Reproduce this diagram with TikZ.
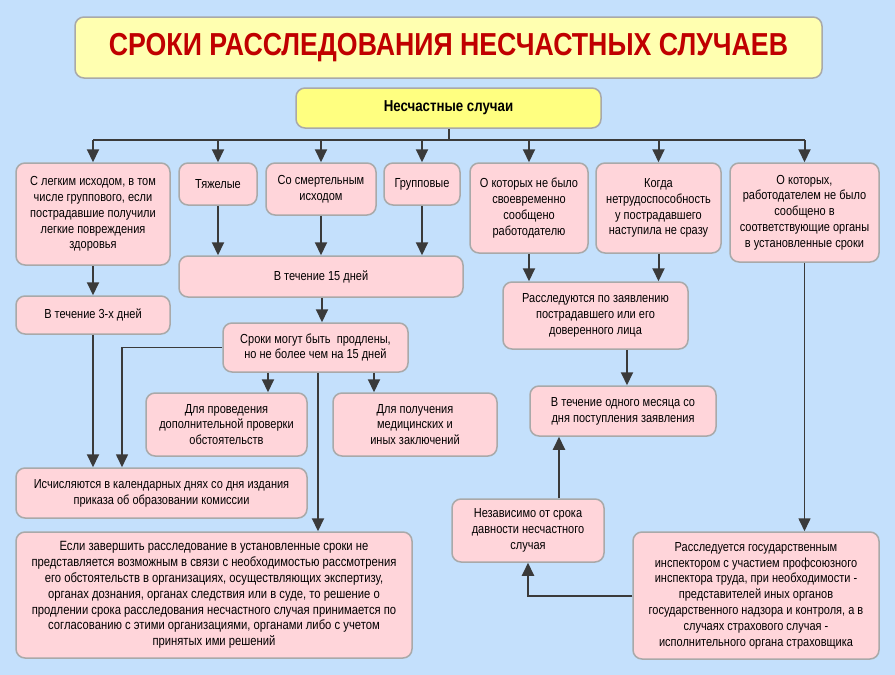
\documentclass[tikz,border=0pt]{standalone}
\usepackage{fontspec}
\setmainfont{Liberation Sans}[FakeStretch=0.84]
\usetikzlibrary{arrows.meta}
\definecolor{bg}{HTML}{C4E0FC}
\definecolor{pinkbox}{HTML}{FFD5DA}
\definecolor{boxline}{HTML}{A9A9A9}
\definecolor{titlefill}{HTML}{FFFFB0}
\definecolor{headfill}{HTML}{FFFF80}
\definecolor{titlered}{HTML}{C00000}
\definecolor{arrowcol}{HTML}{3A3A3A}
\tikzset{
  box/.style={draw=boxline, fill=pinkbox, line width=1.5pt, rounded corners=9pt,
    align=center, inner sep=0pt, font=\fontsize{13.1}{15.8}\selectfont},
  arr/.style={draw=arrowcol, line width=2pt, -{Triangle[length=13pt,width=12pt]}},
  thinarr/.style={draw=arrowcol, line width=1.6pt, -{Triangle[length=13pt,width=12pt]}},
  plainline/.style={draw=arrowcol, line width=2pt},
}
\begin{document}
\begin{tikzpicture}[x=1pt,y=-1pt]
\fill[bg] (0,0) rectangle (895,675);
\useasboundingbox (0,0) rectangle (895,675);

\node[box, fill=titlefill, minimum width=747pt, minimum height=61pt,
  font=\bfseries\fontsize{31.8}{34}\selectfont, text=titlered] (title) at (448.5,47.5)
  {СРОКИ РАССЛЕДОВАНИЯ НЕСЧАСТНЫХ СЛУЧАЕВ};
\node[box, fill=headfill, minimum width=305pt, minimum height=40pt,
  font=\bfseries\fontsize{15.8}{17}\selectfont] (nc) at (448.5,108) {Несчастные случаи};

\node[box, minimum width=154pt, minimum height=102pt] (A) at (93,214)
  {С легким исходом, в том\\числе группового, если\\пострадавшие получили\\легкие повреждения\\здоровья};
\node[box, minimum width=78pt, minimum height=42pt] (B) at (218,184) {Тяжелые};
\node[box, minimum width=110pt, minimum height=52pt] (C) at (321,189) {Со смертельным\\исходом};
\node[box, minimum width=76pt, minimum height=42pt] (D) at (422,184) {Групповые};
\node[box, minimum width=118pt, minimum height=90pt] (E) at (529,208)
  {О которых не было\\своевременно\\сообщено\\работодателю};
\node[box, minimum width=125pt, minimum height=90pt] (F) at (658.5,208)
  {Когда\\нетрудоспособность\\у пострадавшего\\наступила не сразу};
\node[box, minimum width=149pt, minimum height=99pt] (G) at (804.5,212.5)
  {О которых,\\работодателем не было\\сообщено в\\соответствующие органы\\в установленные сроки};

\node[box, minimum width=284pt, minimum height=41pt] (d15) at (321,276.5) {В течение 15 дней};
\node[box, minimum width=154pt, minimum height=38pt] (d3) at (93,315) {В течение 3-х дней};
\node[box, minimum width=185pt, minimum height=49pt] (prod) at (315.5,347.5)
  {Сроки могут быть \ продлены,\\но не более чем на 15 дней};
\node[box, minimum width=161pt, minimum height=63pt] (dop) at (226.5,424.5)
  {Для проведения\\дополнительной проверки\\обстоятельств};
\node[box, minimum width=164pt, minimum height=63pt] (med) at (415,424.5)
  {Для получения\\медицинских и\\иных заключений};
\node[box, minimum width=291pt, minimum height=50pt] (isch) at (161.5,493)
  {Исчисляются в календарных днях со дня издания\\приказа об образовании комиссии};
\node[box, minimum width=396pt, minimum height=126pt, font=\fontsize{13.4}{15.8}\selectfont] (big) at (214,595)
  {Если завершить расследование в установленные сроки не\\представляется возможным в связи с необходимостью рассмотрения\\его обстоятельств в организациях, осуществляющих экспертизу,\\органах дознания, органах следствия или в суде, то решение о\\продлении срока расследования несчастного случая принимается по\\согласованию с этими организациями, органами либо с учетом\\принятых ими решений};

\node[box, minimum width=185pt, minimum height=67pt] (rass) at (595.5,315.5)
  {Расследуются по заявлению\\пострадавшего или его\\доверенного лица};
\node[box, minimum width=186pt, minimum height=50pt] (month) at (623,411)
  {В течение одного месяца со\\дня поступления заявления};
\node[box, minimum width=152pt, minimum height=63pt] (nez) at (528,530.5)
  {Независимо от срока\\давности несчастного\\случая};
\node[box, minimum width=246pt, minimum height=127pt] (insp) at (756,595.5)
  {Расследуется государственным\\инспектором с участием профсоюзного\\инспектора труда, при необходимости -\\представителей иных органов\\государственного надзора и контроля, а в\\случаях страхового случая -\\исполнительного органа страховщика};

% helper coordinates
\coordinate (bus) at (0,140);
\coordinate (x122) at (122,0);
\coordinate (x268) at (268,0);
\coordinate (x318) at (318,0);
\coordinate (x374) at (374,0);
\coordinate (x322) at (322,0);
\coordinate (x627) at (627,0);
\coordinate (x559) at (559,0);

% top bus
\draw[plainline] (nc.south) -- (nc.south |- bus);
\draw[plainline] (A.north |- bus) -- (G.north |- bus);
\foreach \n in {A,B,C,D,E,F,G} \draw[arr] (\n.north |- bus) -- (\n.north);

% left branch
\draw[arr] (A.south) -- (d3.north);
\draw[arr] (d3.south) -- (d3.south |- isch.north);
\draw[arr] (B.south) -- (B.south |- d15.north);
\draw[arr] (C.south) -- (C.south |- d15.north);
\draw[arr] (D.south) -- (D.south |- d15.north);
\draw[arr] (d15.south -| x322) -- (prod.north -| x322);
\draw[thinarr] (prod.west) -| (isch.north -| x122);
\draw[arr] (prod.south -| x268) -- (dop.north -| x268);
\draw[arr] (prod.south -| x374) -- (med.north -| x374);
\draw[arr] (prod.south -| x318) -- (big.north -| x318);

% right branch
\draw[arr] (E.south) -- (E.south |- rass.north);
\draw[arr] (F.south) -- (F.south |- rass.north);
\draw[arr] (rass.south -| x627) -- (month.north -| x627);
\draw[arr] (nez.north -| x559) -- (month.south -| x559);
\draw[thinarr] (G.south) -- (G.south |- insp.north);
\draw[arr] (insp.west) -| (nez.south);
\end{tikzpicture}
\end{document}
